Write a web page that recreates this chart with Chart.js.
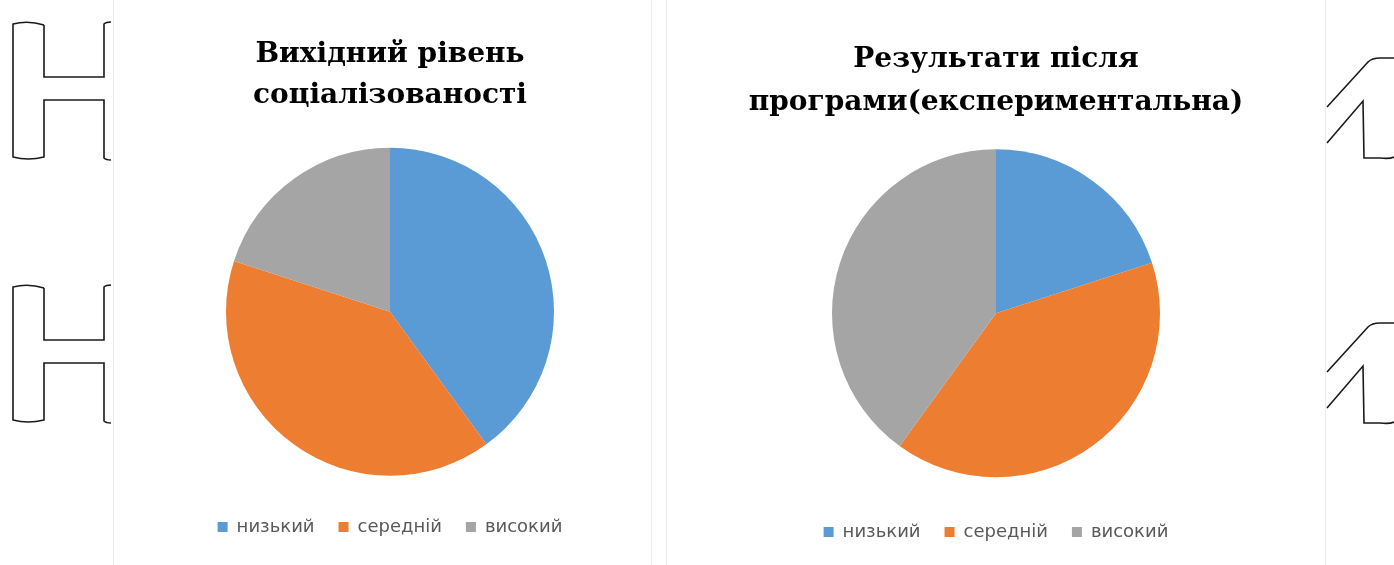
<!DOCTYPE html>
<html>
<head>
<meta charset="utf-8">
<script src="https://cdn.jsdelivr.net/npm/chart.js@4.4.1/dist/chart.umd.min.js"></script>
<style>
    html, body { margin: 0; padding: 0; background: #fff; }
    #page { position: relative; width: 1394px; height: 565px; overflow: hidden; background: #fff; }
    .panel { position: absolute; top: 0; height: 565px; }
    .edge { position: absolute; top: 0; width: 1px; height: 565px; background: #ececec; }
    #deco { position: absolute; left: 0; top: 0; }
</style>
</head>
<body>
<div id="page">
    <div class="edge" style="left:113px"></div>
    <div class="edge" style="left:651px"></div>
    <div class="edge" style="left:666px"></div>
    <div class="edge" style="left:1325px"></div>

    <div class="panel" style="left:112px;width:556px"><canvas id="initialChart"></canvas></div>
    <div class="panel" style="left:665px;width:662px"><canvas id="resultChart"></canvas></div>

    <svg id="deco" width="1394" height="565" fill="none" stroke="#1a1a1a" stroke-width="1.6">
        <g id="leftMark">
            <path d="M44,25 Q28,20 13,24 L13,157 Q28,161 44,157 L44,100 L104,100 L104,158 Q106,160 111,160"/>
            <path d="M44,25 L44,77 L104,77 L104,24 Q106,22 111,22"/>
        </g>
        <use href="#leftMark" y="263"/>
        <g id="rightMark">
            <path d="M1327,107 L1368,62 Q1372,58 1380,58 L1394,58"/>
            <path d="M1327,143 L1363,101 L1364,158 L1380,158 Q1390,159 1394,157"/>
        </g>
        <use href="#rightMark" y="265"/>
    </svg>
</div>
<script>
const categories = ["низький", "середній", "високий"];
const initialValues = [40, 40, 20];
const experimentalValues = [20, 40, 40];

const initialTitle = ["Вихідний рівень", "соціалізованості"];
const resultTitle = ["Результати після", "програми(експериментальна)"];

const sliceColors = ["#5b9bd5", "#ed7d31", "#a5a5a5"];

function makePie(canvasId, titleLines, values, titlePad, lineHeight, bottomPad) {
    return new Chart(document.getElementById(canvasId), {
        type: "pie",
        data: {
            labels: categories,
            datasets: [{
                data: values,
                backgroundColor: sliceColors,
                borderWidth: 0,
                radius: 164
            }]
        },
        options: {
            responsive: true,
            maintainAspectRatio: false,
            animation: false,
            layout: { padding: { bottom: bottomPad } },
            plugins: {
                tooltip: { enabled: false },
                title: {
                    display: true,
                    text: titleLines,
                    color: "#000",
                    font: { family: "'DejaVu Serif', serif", size: 28, weight: "bold", lineHeight: lineHeight },
                    padding: titlePad
                },
                legend: {
                    position: "bottom",
                    labels: {
                        boxWidth: 10,
                        boxHeight: 10,
                        padding: 24,
                        color: "#595959",
                        font: { family: "'DejaVu Sans', sans-serif", size: 18 }
                    }
                }
            }
        }
    });
}

makePie("initialChart", initialTitle, initialValues, { top: 34, bottom: 13 }, 1.47, 19);
makePie("resultChart", resultTitle, experimentalValues, { top: 38, bottom: 4 }, 1.53, 14);
</script>
</body>
</html>
